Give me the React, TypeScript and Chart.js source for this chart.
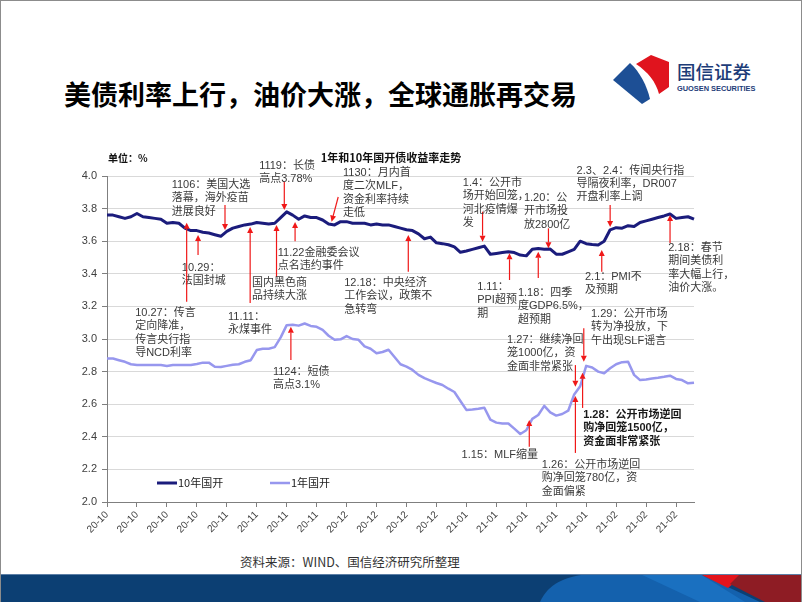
import React, { useEffect, useRef } from 'react';
import { Chart, registerables } from 'chart.js';

Chart.register(...registerables);

// ---------------- data ----------------
const DATES = [
  '2020-09-29', '2020-09-30',
  '2020-10-09', '2020-10-12', '2020-10-13', '2020-10-14', '2020-10-15', '2020-10-16', '2020-10-19', '2020-10-20',
  '2020-10-21', '2020-10-22', '2020-10-23', '2020-10-26', '2020-10-27', '2020-10-28', '2020-10-29', '2020-10-30',
  '2020-11-02', '2020-11-03', '2020-11-04', '2020-11-05', '2020-11-06', '2020-11-09', '2020-11-10', '2020-11-11',
  '2020-11-12', '2020-11-13', '2020-11-16', '2020-11-17', '2020-11-18', '2020-11-19', '2020-11-20', '2020-11-23',
  '2020-11-24', '2020-11-25', '2020-11-26', '2020-11-27', '2020-11-30',
  '2020-12-01', '2020-12-02', '2020-12-03', '2020-12-04', '2020-12-07', '2020-12-08', '2020-12-09', '2020-12-10',
  '2020-12-11', '2020-12-14', '2020-12-15', '2020-12-16', '2020-12-17', '2020-12-18', '2020-12-21', '2020-12-22',
  '2020-12-23', '2020-12-24', '2020-12-25', '2020-12-28', '2020-12-29', '2020-12-30', '2020-12-31',
  '2021-01-04', '2021-01-05', '2021-01-06', '2021-01-07', '2021-01-08', '2021-01-11', '2021-01-12', '2021-01-13',
  '2021-01-14', '2021-01-15', '2021-01-18', '2021-01-19', '2021-01-20', '2021-01-21', '2021-01-22', '2021-01-25',
  '2021-01-26', '2021-01-27', '2021-01-28', '2021-01-29',
  '2021-02-01', '2021-02-02', '2021-02-03', '2021-02-04', '2021-02-05', '2021-02-07', '2021-02-08', '2021-02-09',
  '2021-02-10', '2021-02-18', '2021-02-19', '2021-02-20', '2021-02-22', '2021-02-23', '2021-02-24', '2021-02-25',
  '2021-02-26',
];

const TICK_LABELS = [
  '20-10', '20-10', '20-10', '20-10', '20-11', '20-11', '20-11', '20-11', '20-12', '20-12',
  '20-12', '20-12', '21-01', '21-01', '21-01', '21-01', '21-01', '21-02', '21-02', '21-02',
];
const TICK_EVERY = 5;

const SERIES_NAMES = ['10年国开', '1年国开'];

const YIELD_10Y = [
  3.76, 3.76, 3.75, 3.74, 3.75, 3.77, 3.75, 3.745, 3.74, 3.735,
  3.71, 3.715, 3.71, 3.68, 3.665, 3.665, 3.655, 3.65, 3.64, 3.63,
  3.66, 3.68, 3.69, 3.70, 3.705, 3.715, 3.71, 3.705, 3.71, 3.745,
  3.78, 3.76, 3.735, 3.755, 3.745, 3.745, 3.73, 3.705, 3.70, 3.72,
  3.72, 3.71, 3.71, 3.71, 3.70, 3.705, 3.70, 3.70, 3.69, 3.68,
  3.67, 3.665, 3.645, 3.615, 3.625, 3.59, 3.585, 3.578, 3.565, 3.532,
  3.54, 3.55, 3.56, 3.57, 3.52, 3.525, 3.53, 3.535, 3.53, 3.515,
  3.51, 3.55, 3.555, 3.55, 3.552, 3.52, 3.52, 3.535, 3.55, 3.60,
  3.585, 3.58, 3.577, 3.60, 3.67, 3.683, 3.68, 3.695, 3.69, 3.715,
  3.725, 3.735, 3.745, 3.755, 3.767, 3.74, 3.745, 3.75, 3.735,
];

const YIELD_1Y = [
  2.88, 2.88, 2.87, 2.86, 2.845, 2.84, 2.84, 2.84, 2.84, 2.84,
  2.835, 2.84, 2.84, 2.84, 2.84, 2.847, 2.855, 2.855, 2.83, 2.828,
  2.835, 2.842, 2.845, 2.86, 2.87, 2.932, 2.94, 2.94, 2.95, 3.01,
  3.085, 3.088, 3.082, 3.095, 3.08, 3.075, 3.056, 3.02, 2.995, 2.998,
  3.018, 3.00, 2.995, 2.955, 2.94, 2.913, 2.92, 2.934, 2.89, 2.845,
  2.83, 2.81, 2.78, 2.76, 2.745, 2.73, 2.718, 2.695, 2.675, 2.62,
  2.565, 2.568, 2.572, 2.578, 2.505, 2.487, 2.482, 2.482, 2.45, 2.417,
  2.44, 2.51, 2.534, 2.59, 2.55, 2.53, 2.54, 2.56, 2.66, 2.71,
  2.835, 2.825, 2.80, 2.79, 2.82, 2.845, 2.858, 2.86, 2.78, 2.748,
  2.752, 2.758, 2.762, 2.768, 2.775, 2.755, 2.748, 2.728, 2.732,
];

const Y_MIN = 2.0;
const Y_MAX = 4.0;
const Y_STEP = 0.2;

const SLIDE_TITLE = '美债利率上行，油价大涨，全球通胀再交易';
const CHART_TITLE = '1年和10年国开债收益率走势';
const UNIT_TEXT = '单位：%';
const SOURCE_TEXT = '资料来源：WIND、国信经济研究所整理';

// annotation: text lines, text anchor (category index, value of first line),
// arrow [tail index, tail value, tip index, tip value]
type Note = { lines: string[]; tx: number; ty: number; arrow: number[]; bold?: boolean };
const NOTES: Note[] = [
  { lines: ['1106：美国大选', '落幕，海外疫苗', '进展良好'], tx: 10.8, ty: 3.945, arrow: [19.7, 3.822, 19.7, 3.669] },
  { lines: ['10.29：', '法国封城'], tx: 12.5, ty: 3.436, arrow: [15.2, 3.515, 15.2, 3.638] },
  { lines: ['10.27：传言', '定向降准，', '传言央行指', '导NCD利率'], tx: 4.7, ty: 3.161, arrow: [13.3, 3.229, 13.3, 3.713] },
  { lines: ['1119：长债', '高点3.78%'], tx: 25.4, ty: 4.061, arrow: [29.6, 3.965, 29.6, 3.791] },
  { lines: ['1130：月内首', '度二次MLF，', '资金利率持续', '走低'], tx: 39.4, ty: 4.018, arrow: [38.6, 3.871, 37.5, 3.72] },
  { lines: ['11.22金融委会议', '点名违约事件'], tx: 28.5, ty: 3.528, arrow: [31.4, 3.60, 31.4, 3.718] },
  { lines: ['国内黑色商', '品持续大涨'], tx: 24.2, ty: 3.344, arrow: [28.3, 3.38, 28.3, 3.70] },
  { lines: ['11.11：', '永煤事件'], tx: 20.2, ty: 3.135, arrow: [23.9, 3.221, 23.9, 3.687] },
  { lines: ['1124：短债', '高点3.1%'], tx: 27.7, ty: 2.798, arrow: [30.7, 2.871, 30.7, 3.075] },
  { lines: ['12.18：中央经济', '工作会议，政策不', '急转弯'], tx: 39.6, ty: 3.344, arrow: [50.3, 3.413, 50.3, 3.638] },
  { lines: ['1.4：公开市', '场开始回笼，', '河北疫情爆', '发'], tx: 59.4, ty: 3.957, arrow: [62.7, 3.781, 62.7, 3.597] },
  { lines: ['1.20：公', '开市场投', '放2800亿'], tx: 69.6, ty: 3.865, arrow: [73.7, 3.679, 73.7, 3.556] },
  { lines: ['2.3、2.4：传闻央行指', '导隔夜利率，DR007', '开盘利率上调'], tx: 78.4, ty: 4.033, arrow: [84.0, 3.822, 84.0, 3.687] },
  { lines: ['2.18：春节', '期间美债利', '率大幅上行，', '油价大涨。'], tx: 93.7, ty: 3.558, arrow: [94.0, 3.589, 94.0, 3.761] },
  { lines: ['2.1：PMI不', '及预期'], tx: 79.8, ty: 3.382, arrow: [82.6, 3.413, 82.6, 3.546] },
  { lines: ['1.11：', 'PPI超预', '期'], tx: 61.8, ty: 3.321, arrow: [67.2, 3.362, 67.2, 3.526] },
  { lines: ['1.18：四季', '度GDP6.5%，', '超预期'], tx: 68.6, ty: 3.282, arrow: [72.0, 3.374, 72.0, 3.536] },
  { lines: ['1.29：公开市场', '转为净投放，下', '午出现SLF谣言'], tx: 80.8, ty: 3.153, arrow: [79.6, 3.066, 79.6, 2.861] },
  { lines: ['1.27：继续净回', '笼1000亿，资', '金面非常紧张'], tx: 66.8, ty: 2.994, arrow: [78.2, 2.84, 78.2, 2.707] },
  { lines: ['1.28：公开市场逆回', '购净回笼1500亿，', '资金面非常紧张'], tx: 79.5, ty: 2.534, arrow: [79.4, 2.577, 79.4, 2.793], bold: true },
  { lines: ['1.26：公开市场逆回', '购净回笼780亿，资', '金面偏紧'], tx: 72.6, ty: 2.227, arrow: [78.2, 2.301, 78.2, 2.65] },
  { lines: ['1.15：MLF缩量'], tx: 59.2, ty: 2.288, arrow: [70.5, 2.339, 70.5, 2.503] },
];

const COLOR_10Y = '#1b1c7c';
const COLOR_1Y = '#9797ee';
const NOTE_FONT = '"Liberation Sans", "Noto Sans CJK SC", sans-serif';
const CJK_FONT = '"Noto Sans CJK SC", sans-serif';

// ---------------- drawing plugin ----------------
const overlayPlugin = {
  id: 'overlay',
  afterDatasetsDraw(chart: any) {
    const { ctx, chartArea } = chart;
    const xs = chart.scales.x;
    const ys = chart.scales.y;
    ctx.save();

    // header texts
    ctx.fillStyle = '#111';
    ctx.textBaseline = 'middle';
    ctx.textAlign = 'left';
    ctx.font = 'bold 10px ' + CJK_FONT;
    ctx.fillText(UNIT_TEXT, chartArea.left + 1, chartArea.top - 18);
    ctx.textAlign = 'center';
    ctx.font = 'bold 11px ' + CJK_FONT;
    ctx.fillText(CHART_TITLE, chartArea.left + 284, chartArea.top - 18);

    // legend
    const ds = chart.data.datasets;
    const legendY = chartArea.bottom - 19;
    const legendX = [chartArea.left + 50, chartArea.left + 163];
    ds.forEach((d: any, i: number) => {
      const lx = legendX[i];
      ctx.strokeStyle = d.borderColor;
      ctx.lineWidth = d.borderWidth;
      ctx.beginPath();
      ctx.moveTo(lx, legendY);
      ctx.lineTo(lx + 20, legendY);
      ctx.stroke();
      ctx.fillStyle = '#222';
      ctx.textAlign = 'left';
      ctx.font = '11px ' + CJK_FONT;
      ctx.fillText(d.label, lx + 21, legendY);
    });

    // annotations
    NOTES.forEach((n) => {
      const [ti, tv, pi, pv] = n.arrow;
      const x0 = xs.getPixelForValue(ti);
      const y0 = ys.getPixelForValue(tv);
      const x1 = xs.getPixelForValue(pi);
      const y1 = ys.getPixelForValue(pv);
      const ang = Math.atan2(y1 - y0, x1 - x0);
      const head = 6;
      const hw = 3;
      ctx.strokeStyle = '#f01818';
      ctx.fillStyle = '#f01818';
      ctx.lineWidth = 1.2;
      ctx.beginPath();
      ctx.moveTo(x0, y0);
      ctx.lineTo(x1 - Math.cos(ang) * head, y1 - Math.sin(ang) * head);
      ctx.stroke();
      ctx.beginPath();
      ctx.moveTo(x1, y1);
      ctx.lineTo(x1 - Math.cos(ang) * head - Math.sin(ang) * hw, y1 - Math.sin(ang) * head + Math.cos(ang) * hw);
      ctx.lineTo(x1 - Math.cos(ang) * head + Math.sin(ang) * hw, y1 - Math.sin(ang) * head - Math.cos(ang) * hw);
      ctx.closePath();
      ctx.fill();

      const tx = xs.getPixelForValue(n.tx);
      const ty = ys.getPixelForValue(n.ty);
      ctx.fillStyle = n.bold ? '#1a1a1a' : '#3a3a3a';
      ctx.font = (n.bold ? 'bold ' : '') + '11px ' + NOTE_FONT;
      ctx.textAlign = 'left';
      ctx.textBaseline = 'middle';
      n.lines.forEach((line, k) => {
        ctx.fillText(line, tx, ty + k * 13.4);
      });
    });
    ctx.restore();
  },
};

// ---------------- component ----------------
export default function App() {
  const canvasRef = useRef<HTMLCanvasElement | null>(null);

  useEffect(() => {
    document.body.style.margin = '0';
    const canvas = canvasRef.current;
    if (!canvas) return;
    const chart = new Chart(canvas, {
      type: 'line',
      data: {
        labels: DATES,
        datasets: [
          {
            label: SERIES_NAMES[0],
            data: YIELD_10Y,
            borderColor: COLOR_10Y,
            backgroundColor: COLOR_10Y,
            borderWidth: 3,
            pointRadius: 0,
            tension: 0,
            borderJoinStyle: 'round',
          },
          {
            label: SERIES_NAMES[1],
            data: YIELD_1Y,
            borderColor: COLOR_1Y,
            backgroundColor: COLOR_1Y,
            borderWidth: 2.5,
            pointRadius: 0,
            tension: 0,
            borderJoinStyle: 'round',
          },
        ],
      },
      options: {
        responsive: false,
        animation: false,
        devicePixelRatio: 1,
        layout: { padding: { left: 77, top: 176, right: 108, bottom: 40 } },
        plugins: { legend: { display: false }, tooltip: { enabled: false }, title: { display: false } },
        scales: {
          x: {
            type: 'category',
            offset: false,
            grid: { display: true, drawOnChartArea: false, drawTicks: true, tickLength: 5, tickColor: '#7f7f7f' },
            border: { display: true, color: '#7f7f7f', width: 1 },
            afterBuildTicks: (scale: any) => {
              scale.ticks = scale.ticks.filter((t: any) => t.value % TICK_EVERY === 0);
            },
            afterFit: (scale: any) => {
              scale.height = 60;
            },
            ticks: {
              autoSkip: false,
              minRotation: 45,
              maxRotation: 45,
              padding: 2,
              color: '#404040',
              font: { size: 10, family: '"Liberation Sans", Arial, sans-serif' },
              callback: (value: any) => TICK_LABELS[Math.round(Number(value) / TICK_EVERY)] ?? '',
            },
          },
          y: {
            min: Y_MIN,
            max: Y_MAX,
            grid: { color: '#d9d9d9', lineWidth: 1, drawTicks: true, tickLength: 5, tickColor: '#7f7f7f' },
            border: { display: true, color: '#7f7f7f', width: 1 },
            afterFit: (scale: any) => {
              scale.width = 30;
            },
            ticks: {
              stepSize: Y_STEP,
              padding: 5,
              color: '#404040',
              font: { size: 11, family: '"Liberation Sans", Arial, sans-serif' },
              callback: (v: any) => Number(v).toFixed(1),
            },
          },
        },
      },
      plugins: [overlayPlugin],
    } as any);
    return () => chart.destroy();
  }, []);

  return (
    <div
      style={{
        position: 'absolute',
        left: 0,
        top: 0,
        width: 802,
        height: 602,
        background: '#ffffff',
        overflow: 'hidden',
      }}
    >
      {/* slide title */}
      <div
        style={{
          position: 'absolute',
          left: 64,
          top: 79,
          height: 30,
          lineHeight: '30px',
          fontFamily: CJK_FONT,
          fontWeight: 700,
          fontSize: 27,
          color: '#000',
          whiteSpace: 'nowrap',
        }}
      >
        {SLIDE_TITLE}
      </div>

      {/* logo */}
      <svg style={{ position: 'absolute', left: 0, top: 0 }} width={802} height={120}>
        <path d="M636 64 L651 55 L669 62 L669 87 L659 94 C656 82 648 72 636 64 Z" fill="#e0141e" />
        <path d="M613 80 L630 63 C640 72 647 86 650 99 L642 104 Z" fill="#1d4f95" />
        <text x={677} y={79} fontFamily={CJK_FONT} fontSize={18.5} fontWeight={500} fill="#1d3c78">国信证券</text>
        <text x={677} y={91} fontFamily='"Liberation Sans", Arial, sans-serif' fontSize={7.4} fontWeight={700} fill="#1d3c78">GUOSEN SECURITIES</text>
      </svg>

      {/* source */}
      <div
        style={{
          position: 'absolute',
          left: 240,
          top: 553,
          height: 18,
          lineHeight: '18px',
          fontFamily: CJK_FONT,
          fontSize: 12.5,
          color: '#333',
          whiteSpace: 'nowrap',
        }}
      >
        {SOURCE_TEXT}
      </div>

      {/* bottom banner */}
      <svg style={{ position: 'absolute', left: 0, top: 574 }} width={802} height={28}>
        <rect x={0} y={0} width={802} height={28} fill="#0c3f73" />
        <path d="M540 28 C548 10 565 2 590 0 L700 0 L760 28 Z" fill="#1461ad" />
        <path d="M640 0 L700 0 L745 28 L700 28 Z" fill="#1a70c0" />
        <path d="M700 0 L745 0 L728 14 Z" fill="#e3141c" />
        <path d="M740 0 L802 0 L802 28 L765 28 L730 10 Z" fill="#8e1c24" />
        <rect x={0} y={0} width={802} height={1} fill="#5d7fa6" />
      </svg>

      <canvas
        ref={canvasRef}
        width={802}
        height={602}
        style={{ position: 'absolute', left: 0, top: 0, width: 802, height: 602 }}
      />

      {/* slide border */}
      <div
        style={{
          position: 'absolute',
          left: 0,
          top: 0,
          width: 802,
          height: 602,
          boxSizing: 'border-box',
          borderTop: '1px solid #8c8c8c',
          borderLeft: '1px solid #8c8c8c',
          borderRight: '1px solid #8c8c8c',
          pointerEvents: 'none',
        }}
      />
    </div>
  );
}
